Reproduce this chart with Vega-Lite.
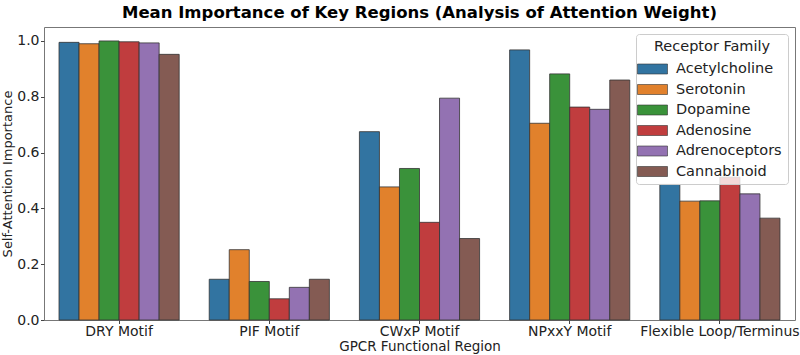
{
  "$schema": "https://vega.github.io/schema/vega-lite/v6.json",
  "autosize": {"type": "none"},
  "width": 751,
  "height": 293,
  "padding": {"left": 44, "top": 27, "right": 5, "bottom": 35},
  "background": "white",
  "title": {
    "text": "Mean Importance of Key Regions (Analysis of Attention Weight)",
    "font": "DejaVu Sans",
    "fontSize": 16.5,
    "fontWeight": "bold",
    "color": "#000000",
    "anchor": "middle",
    "offset": 6
  },
  "data": {
    "values": [
      {"region": "DRY Motif", "family": "Acetylcholine", "value": 0.995},
      {"region": "DRY Motif", "family": "Serotonin", "value": 0.990},
      {"region": "DRY Motif", "family": "Dopamine", "value": 1.000},
      {"region": "DRY Motif", "family": "Adenosine", "value": 0.997},
      {"region": "DRY Motif", "family": "Adrenoceptors", "value": 0.993},
      {"region": "DRY Motif", "family": "Cannabinoid", "value": 0.952},
      {"region": "PIF Motif", "family": "Acetylcholine", "value": 0.146},
      {"region": "PIF Motif", "family": "Serotonin", "value": 0.252},
      {"region": "PIF Motif", "family": "Dopamine", "value": 0.138},
      {"region": "PIF Motif", "family": "Adenosine", "value": 0.076},
      {"region": "PIF Motif", "family": "Adrenoceptors", "value": 0.117},
      {"region": "PIF Motif", "family": "Cannabinoid", "value": 0.146},
      {"region": "CWxP Motif", "family": "Acetylcholine", "value": 0.675},
      {"region": "CWxP Motif", "family": "Serotonin", "value": 0.477},
      {"region": "CWxP Motif", "family": "Dopamine", "value": 0.543},
      {"region": "CWxP Motif", "family": "Adenosine", "value": 0.350},
      {"region": "CWxP Motif", "family": "Adrenoceptors", "value": 0.795},
      {"region": "CWxP Motif", "family": "Cannabinoid", "value": 0.292},
      {"region": "NPxxY Motif", "family": "Acetylcholine", "value": 0.968},
      {"region": "NPxxY Motif", "family": "Serotonin", "value": 0.705},
      {"region": "NPxxY Motif", "family": "Dopamine", "value": 0.882},
      {"region": "NPxxY Motif", "family": "Adenosine", "value": 0.763},
      {"region": "NPxxY Motif", "family": "Adrenoceptors", "value": 0.755},
      {"region": "NPxxY Motif", "family": "Cannabinoid", "value": 0.860},
      {"region": "Flexible Loop/Terminus", "family": "Acetylcholine", "value": 0.486},
      {"region": "Flexible Loop/Terminus", "family": "Serotonin", "value": 0.426},
      {"region": "Flexible Loop/Terminus", "family": "Dopamine", "value": 0.427},
      {"region": "Flexible Loop/Terminus", "family": "Adenosine", "value": 0.512},
      {"region": "Flexible Loop/Terminus", "family": "Adrenoceptors", "value": 0.452},
      {"region": "Flexible Loop/Terminus", "family": "Cannabinoid", "value": 0.365}
    ]
  },
  "mark": {"type": "bar", "stroke": "#333333", "strokeWidth": 0.8, "opacity": 1},
  "encoding": {
    "x": {
      "field": "region",
      "type": "nominal",
      "sort": ["DRY Motif", "PIF Motif", "CWxP Motif", "NPxxY Motif", "Flexible Loop/Terminus"],
      "scale": {"paddingInner": 0.2, "paddingOuter": 0.1},
      "axis": {"labelAngle": 0, "title": "GPCR Functional Region", "labelPadding": 1, "titlePadding": 1}
    },
    "xOffset": {
      "field": "family",
      "type": "nominal",
      "sort": ["Acetylcholine", "Serotonin", "Dopamine", "Adenosine", "Adrenoceptors", "Cannabinoid"],
      "scale": {"paddingInner": 0, "paddingOuter": 0}
    },
    "y": {
      "field": "value",
      "type": "quantitative",
      "scale": {"domain": [0, 1.05], "nice": false, "zero": true},
      "axis": {"values": [0, 0.2, 0.4, 0.6, 0.8, 1.0], "format": ".1f", "title": "Self-Attention Importance", "grid": false, "labelPadding": 1.5, "titlePadding": 2, "titleFontSize": 13}
    },
    "color": {
      "field": "family",
      "type": "nominal",
      "sort": ["Acetylcholine", "Serotonin", "Dopamine", "Adenosine", "Adrenoceptors", "Cannabinoid"],
      "scale": {
        "domain": ["Acetylcholine", "Serotonin", "Dopamine", "Adenosine", "Adrenoceptors", "Cannabinoid"],
        "range": ["#3274a1", "#e1812c", "#3a923a", "#c03d3e", "#9372b2", "#845b53"]
      },
      "legend": {
        "title": "Receptor Family",
        "orient": "top-right",
        "offset": 7,
        "padding": 6,
        "fillColor": "rgba(255,255,255,0.8)",
        "strokeColor": "#cccccc",
        "cornerRadius": 3,
        "symbolType": "M-1.5,-0.5H1.5V0.5H-1.5Z",
        "symbolSize": 400,
        "symbolStrokeColor": "#333333",
        "symbolStrokeWidth": 0.6,
        "symbolOpacity": 1,
        "labelOffset": 13,
        "rowPadding": 3.5,
        "titlePadding": 4,
        "titleAnchor": "middle"
      }
    }
  },
  "config": {
    "font": "DejaVu Sans",
    "view": {"stroke": "#777777", "strokeWidth": 1},
    "axis": {
      "labelFont": "DejaVu Sans",
      "titleFont": "DejaVu Sans",
      "labelFontSize": 14,
      "titleFontSize": 13.5,
      "titleFontWeight": "normal",
      "labelColor": "#222222",
      "titleColor": "#222222",
      "domain": false,
      "tickColor": "#444444",
      "tickSize": 3.5
    },
    "legend": {
      "labelFont": "DejaVu Sans",
      "titleFont": "DejaVu Sans",
      "labelFontSize": 14.5,
      "titleFontSize": 14.5,
      "titleFontWeight": "normal",
      "labelColor": "#222222",
      "titleColor": "#222222"
    }
  }
}
